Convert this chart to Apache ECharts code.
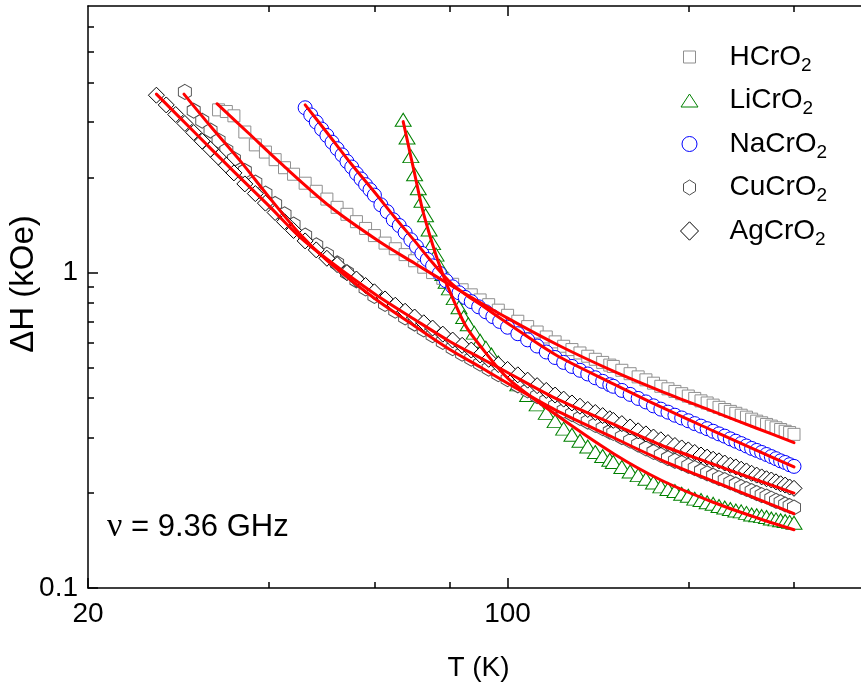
<!DOCTYPE html>
<html>
<head>
<meta charset="utf-8">
<script src="https://cdn.jsdelivr.net/npm/echarts@6/dist/echarts.min.js"></script>
<style>
html,body{margin:0;padding:0;background:#fff;}
#chart{width:861px;height:686px;}
</style>
</head>
<body>
<div id="chart"></div>
<script>
// ---------- data (T in K, ΔH in kOe) ----------
const T_LOW = [26,27,28,29,30,31,32,33,34,35,36.5,38,39.5,41,42.5,44,46,48,50,52,54,56,58,60,62.5,65,67.5,70,72.5,75,78,81,84,87,90,93,96.5];
const T_HIGH = [100,104,108,112,116,120,124,128,132,136,140,144,148,150,155,160,165,170,175,180,185,190,195,200,205,210,215,220,225,230,235,240,245,250,255,260,265,270,275,280,285,290,295,300];

const T_HCrO2 = T_LOW.slice(7).concat(T_HIGH);
const dH_HCrO2 = [3.28,3.24,3.14,2.79,2.54,2.41,2.28,2.15,2.05,1.92,1.81,1.71,1.61,1.53,1.45,1.38,1.31,1.24,1.19,1.14,1.09,1.04,1.00,0.959,0.918,0.882,0.850,0.819,0.791,0.760,
  0.732,0.701,0.674,0.648,0.625,0.603,0.584,0.570,0.556,0.543,0.531,0.519,0.509,0.504,
  0.490,0.478,0.467,0.457,0.446,0.436,0.428,0.420,0.413,0.406,0.399,0.392,0.386,0.380,0.374,0.368,0.363,0.358,0.353,0.348,0.343,0.338,0.334,0.330,0.326,0.322,0.318,0.314,0.311,0.307];

const T_LiCrO2 = [67,68,69,70,71,72,73,74,75,76,77,78,79,80,81.5,83,84.5,86,88,90,92,94,96.5].concat(T_HIGH);
const dH_LiCrO2 = [3.05,2.68,2.34,2.05,1.85,1.69,1.52,1.37,1.24,1.14,1.05,0.99,0.935,0.891,0.830,0.776,0.723,0.686,0.645,0.608,0.578,0.550,0.519,
  0.480,0.442,0.409,0.382,0.359,0.338,0.320,0.306,0.293,0.281,0.270,0.262,0.255,0.251,
  0.242,0.234,0.228,0.222,0.216,0.210,0.206,0.203,0.199,0.196,0.192,0.190,0.187,0.185,0.182,0.180,0.178,0.176,0.175,0.173,0.171,0.170,0.169,0.168,0.166,0.165,0.164,0.163,0.162,0.161];

const T_NaCrO2 = [46,47,48,49,50,51,52,53,54,55,56,57,58,59,60,61.5,63,64.5,66,67.5,69,70.5,72,73.5,75,77,79,81,83,85,87,89.5,92,94.5,97].concat(T_HIGH);
const dH_NaCrO2 = [3.33,3.16,3.00,2.85,2.72,2.59,2.47,2.36,2.25,2.16,2.06,1.98,1.90,1.83,1.76,1.64,1.56,1.47,1.41,1.34,1.27,1.21,1.15,1.10,1.05,0.995,0.942,0.901,0.863,0.834,0.809,0.779,0.751,0.725,0.700,
  0.671,0.640,0.612,0.585,0.560,0.538,0.519,0.504,0.490,0.477,0.464,0.452,0.441,0.436,
  0.423,0.411,0.399,0.389,0.378,0.369,0.361,0.353,0.346,0.339,0.332,0.326,0.320,0.314,0.308,0.303,0.297,0.292,0.287,0.282,0.277,0.273,0.269,0.265,0.261,0.257,0.253,0.250,0.246,0.243];

const T_CuCrO2 = T_LOW.slice(3).concat(T_HIGH);
const dH_CuCrO2 = [3.74,3.26,3.03,2.82,2.62,2.44,2.29,2.10,1.93,1.78,1.65,1.53,1.42,1.31,1.22,1.14,1.07,1.00,0.945,0.891,0.843,0.795,0.757,0.721,0.689,0.660,0.633,0.603,0.576,0.553,0.533,0.514,0.496,0.476,
  0.459,0.439,0.423,0.406,0.392,0.378,0.365,0.356,0.346,0.337,0.329,0.321,0.313,0.310,
  0.301,0.293,0.285,0.277,0.270,0.264,0.258,0.253,0.249,0.244,0.240,0.235,0.231,0.227,0.223,0.220,0.216,0.213,0.209,0.206,0.203,0.200,0.197,0.195,0.192,0.189,0.187,0.184,0.182,0.180];

const T_AgCrO2 = T_LOW.concat(T_HIGH);
const dH_AgCrO2 = [3.65,3.40,3.17,2.97,2.78,2.61,2.46,2.32,2.19,2.07,1.91,1.78,1.66,1.55,1.45,1.36,1.26,1.18,1.11,1.06,1.00,0.954,0.910,0.869,0.825,0.788,0.754,0.723,0.693,0.667,0.638,0.611,0.588,0.568,0.548,0.531,0.511,
  0.493,0.474,0.456,0.438,0.423,0.409,0.397,0.386,0.377,0.368,0.360,0.352,0.344,0.340,
  0.332,0.324,0.315,0.308,0.301,0.295,0.289,0.283,0.278,0.274,0.269,0.264,0.260,0.256,0.253,0.249,0.245,0.242,0.238,0.235,0.231,0.228,0.225,0.222,0.220,0.217,0.214,0.212,0.209,0.207];

// fitted curves (red lines)
const fitT_HCrO2 = [32.8,37,42,50.6,61.3,70,80,100,122,150,180,220,260,300];
const fitH_HCrO2 = [3.43,2.77,2.21,1.62,1.25,1.07,0.917,0.717,0.586,0.487,0.421,0.363,0.321,0.289];
const fitT_LiCrO2 = [67,68,69,70,72,74,76,78,80,85,90,100,120,150,180,220,260,300];
const fitH_LiCrO2 = [3.01,2.65,2.33,2.06,1.61,1.335,1.135,0.988,0.876,0.682,0.586,0.463,0.356,0.267,0.220,0.187,0.167,0.153];
const fitT_NaCrO2 = [46,50,55,60,65,70,75,80,85,90,100,120,150,180,220,260,300];
const fitH_NaCrO2 = [3.40,2.78,2.20,1.80,1.49,1.26,1.074,0.937,0.853,0.793,0.691,0.550,0.444,0.375,0.315,0.273,0.242];
const fitT_CuCrO2 = [28.9,32,36,40,45,50,60,70,80,90,100,120,150,180,220,260,300];
const fitH_CuCrO2 = [3.68,2.91,2.24,1.74,1.33,1.094,0.829,0.677,0.571,0.502,0.446,0.367,0.300,0.255,0.218,0.192,0.172];
const fitT_AgCrO2 = [26,30,35,40,45,50,60,70,80,90,100,120,150,180,220,260,300];
const fitH_AgCrO2 = [3.68,2.80,2.09,1.63,1.30,1.104,0.857,0.710,0.606,0.537,0.482,0.400,0.331,0.284,0.247,0.220,0.200];

const NAMES = ['HCrO2','LiCrO2','NaCrO2','CuCrO2','AgCrO2'];
const X_MAJOR = [20,100];
const X_MINOR = [40,60,80,200,300];
const Y_MAJOR = [0.1,1];
const Y_MINOR = [0.2,0.3,0.4,0.5,0.6,0.7,0.8,0.9,2,3,4,5,6];
const NOTE = '{n|ν} = 9.36 GHz';

// ---------- styles ----------
const FONT = 'Liberation Sans, Arial, Helvetica, sans-serif';
const HEX = 'path://M0,-1 L0.866,-0.5 L0.866,0.5 L0,1 L-0.866,0.5 L-0.866,-0.5 Z';
// legend icons drawn inside a 19x19 box (tiny corner segments fix the box)
const BOX = ' M0,0 L0.01,0 M19,19 L18.99,19';
const STYLE = {
  HCrO2:  {color:'#8f8f8f', symbol:'rect', size:12,
           icon:'path://M3.5,3.5 L15.5,3.5 L15.5,15.5 L3.5,15.5 Z' + BOX},
  LiCrO2: {color:'#008000', symbol:'triangle', size:[16,13],
           icon:'path://M9.5,3 L18,16 L1,16 Z' + BOX},
  NaCrO2: {color:'#0000ff', symbol:'circle', size:14,
           icon:'path://M2,9.5 A7.5,7.5 0 1 1 17,9.5 A7.5,7.5 0 1 1 2,9.5 Z' + BOX},
  CuCrO2: {color:'#505050', symbol:HEX, size:[13,15],
           icon:'path://M9.5,2 L15.5,5.75 L15.5,13.25 L9.5,17 L3.5,13.25 L3.5,5.75 Z' + BOX},
  AgCrO2: {color:'#000000', symbol:'diamond', size:[16,16],
           icon:'path://M9.5,0.3 L18.5,9.5 L9.5,18.7 L0.5,9.5 Z' + BOX}
};

const DATA = {
  HCrO2:[T_HCrO2,dH_HCrO2,fitT_HCrO2,fitH_HCrO2],
  LiCrO2:[T_LiCrO2,dH_LiCrO2,fitT_LiCrO2,fitH_LiCrO2],
  NaCrO2:[T_NaCrO2,dH_NaCrO2,fitT_NaCrO2,fitH_NaCrO2],
  CuCrO2:[T_CuCrO2,dH_CuCrO2,fitT_CuCrO2,fitH_CuCrO2],
  AgCrO2:[T_AgCrO2,dH_AgCrO2,fitT_AgCrO2,fitH_AgCrO2]
};
const zip = (a,b) => a.map((v,i) => [v,b[i]]);

const scatterSeries = NAMES.map(n => ({
  type:'scatter', name:n, xAxisIndex:0, yAxisIndex:0,
  data: zip(DATA[n][0], DATA[n][1]),
  symbol: STYLE[n].symbol, symbolSize: STYLE[n].size,
  itemStyle:{color:'#ffffff', borderColor:STYLE[n].color, borderWidth:1, opacity:1},
  emphasis:{disabled:true}, silent:true, z:2
}));
const fitSeries = NAMES.map(n => ({
  type:'line', name:n+' fit', xAxisIndex:0, yAxisIndex:0,
  data: zip(DATA[n][2], DATA[n][3]),
  symbol:'none', showSymbol:false, smooth:0.3,
  lineStyle:{color:'#ff0000', width:3, cap:'round', join:'round'}, silent:true, z:3
}));

const AXLINE = {show:true, onZero:false, lineStyle:{color:'#000', width:1.5}};
const TICKSTYLE = {color:'#000', width:1.5};
const LBL = {fontSize:28, fontFamily:FONT, color:'#000'};

function xAx(pos, major, showLine, showLabel, ticks, len) {
  const a = {
    type:'log', logBase:10, min:20, max:400, position:pos, gridIndex:0,
    axisLine: showLine ? AXLINE : {show:false},
    splitLine:{show:false}, minorTick:{show:false}, minorSplitLine:{show:false},
    axisTick:{show:true, inside:true, length:len, customValues:ticks, lineStyle:TICKSTYLE},
    axisLabel: showLabel ? Object.assign({show:true, customValues:X_MAJOR, margin:12, showMinLabel:true, showMaxLabel:true,
      formatter: v => String(Math.round(v))}, LBL) : {show:false}
  };
  if (major && showLabel) {
    a.name = 'T (K)'; a.nameLocation = 'middle'; a.nameGap = 66; a.nameMoveOverlap = false;
    a.nameTextStyle = {fontSize:28, fontFamily:FONT, color:'#000'};
  }
  return a;
}
function yAx(pos, showLine, showLabel, ticks, len) {
  const a = {
    type:'log', logBase:10, min:0.1, max:7, position:pos, gridIndex:0,
    axisLine: showLine ? AXLINE : {show:false},
    splitLine:{show:false}, minorTick:{show:false}, minorSplitLine:{show:false},
    axisTick:{show:true, inside:true, length:len, customValues:ticks, lineStyle:TICKSTYLE},
    axisLabel: showLabel ? Object.assign({show:true, customValues:Y_MAJOR, margin:10, showMinLabel:true, showMaxLabel:true,
      formatter: v => (v >= 0.99 ? '1' : '0.1')}, LBL) : {show:false}
  };
  if (showLabel) {
    a.name = 'ΔH (kOe)'; a.nameLocation = 'middle'; a.nameGap = 48; a.nameRotate = 90; a.nameMoveOverlap = false;
    a.nameTextStyle = {fontSize:33, fontFamily:FONT, color:'#000', padding:[0,0,0,26]};
  }
  return a;
}

const option = {
  animation:false,
  backgroundColor:'#ffffff',
  textStyle:{fontFamily:FONT},
  grid:{left:88, right:-8, top:6, bottom:98, containLabel:false, outerBoundsMode:'none'},
  xAxis:[
    xAx('bottom', true, true, true, X_MAJOR, 10),
    xAx('bottom', false, false, false, X_MINOR, 6),
    xAx('top', false, true, false, [100], 10),
    xAx('top', false, false, false, X_MINOR, 6)
  ],
  yAxis:[
    yAx('left', true, true, Y_MAJOR, 10),
    yAx('left', false, false, Y_MINOR, 6)
  ],
  legend:{
    orient:'vertical', left:679.5, top:43, padding:0, itemGap:11.5,
    itemWidth:19, itemHeight:19, selectedMode:false,
    data: NAMES.map(n => ({name:n, icon:STYLE[n].icon})),
    itemStyle:{borderWidth:1},
    formatter: n => '{a|' + n.slice(0,-1) + '}{b|' + n.slice(-1) + '}',
    textStyle:{color:'#000', fontFamily:FONT, fontSize:28,
      rich:{
        a:{fontSize:28, fontFamily:FONT, color:'#000', lineHeight:36, padding:[0,0,0,25.5]},
        b:{fontSize:19, fontFamily:FONT, color:'#000', lineHeight:8, verticalAlign:'bottom'}
      }}
  },
  graphic:[{
    type:'text', left:107, top:510, silent:true,
    style:{text:NOTE, fontSize:31, fontFamily:FONT, fill:'#000',
      rich:{n:{fontSize:34, fontFamily:'Liberation Serif, DejaVu Serif, serif', fill:'#000'}}}
  }],
  series: scatterSeries.concat(fitSeries)
};

const chart = echarts.init(document.getElementById('chart'), null, {renderer:'canvas'});
chart.setOption(option);
</script>
</body>
</html>
